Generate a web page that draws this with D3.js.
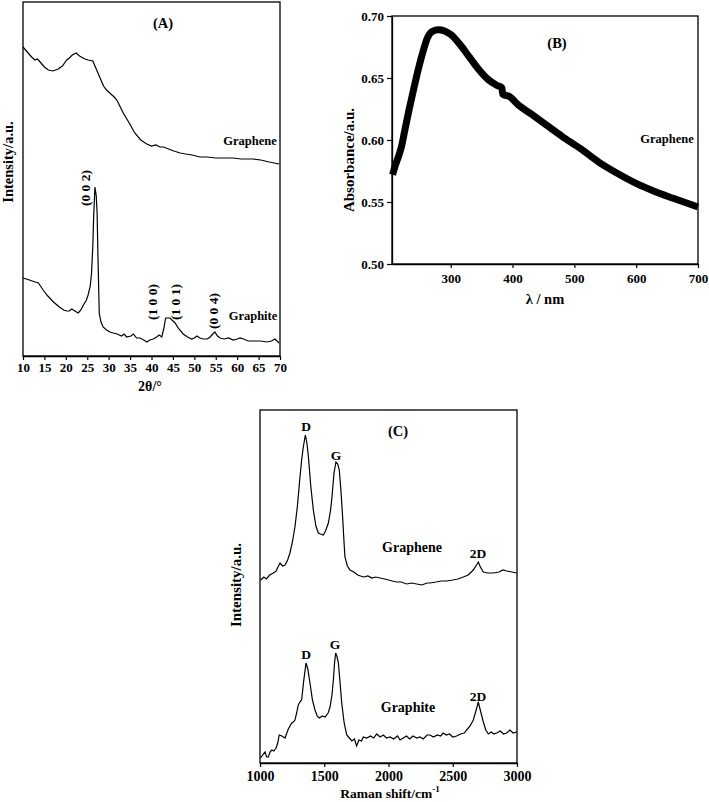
<!DOCTYPE html>
<html><head><meta charset="utf-8">
<script src="https://cdn.jsdelivr.net/npm/d3@7/dist/d3.min.js"></script>
<style>
body{margin:0;background:#fff;}
text{font-family:"Liberation Serif","Times New Roman",serif;font-weight:bold;fill:#000;}
</style></head><body>
<svg id="c" width="709" height="802"></svg>
<script>
// ---------- Panel A: XRD (2θ, intensity a.u.) ----------
const xrdTicks = [10,15,20,25,30,35,40,45,50,55,60,65,70];
const xrdGraphene = [[10,309],[11,304],[12,299],[12.8,296],[13.4,297],[14,294],[15,289],[15.9,286],[17,285],[18.2,287],[19.2,290],[20.2,296],[20.8,298],[21.5,301],[22.4,303],[23.2,300],[24.0,298],[24.5,297],[25.2,296],[26.3,295],[27.2,286],[28,278],[28.8,270],[29.5,266],[30.5,262],[31.3,259],[31.9,256],[32.6,250],[33.4,243],[34.8,233],[36.1,223],[37.5,216],[38.9,212],[40,210],[41,211],[42,209],[42.8,209],[44,207],[45.2,205],[46.7,203],[48,202],[49.5,201],[51.3,199],[53,199],[55,198],[57,198],[59,198],[61,197],[63.7,197],[65.5,196],[67.5,194],[69.8,192]];
const xrdGraphite = [[10,78],[11.5,76],[12.8,74],[13.6,73],[14.7,66],[15.8,60],[17.1,54],[18.5,49],[19.5,46],[20.2,45],[20.8,45],[21.4,47],[22.1,45],[22.9,43],[23.5,46],[24.1,51],[24.7,55],[25.2,61],[25.7,70],[26.0,83],[26.3,110],[26.5,140],[26.8,169],[27.1,160],[27.3,143],[27.5,100],[27.8,43],[28.2,34],[28.7,29],[29.5,26],[30.3,24],[31.1,23],[32,22],[33,20],[33.6,22],[34.2,19],[35.2,20],[35.8,22],[36.5,18],[37.3,18],[38.2,16],[38.9,14],[39.6,16],[40.4,17],[41.2,19],[41.8,21],[42.4,19],[42.9,28],[43.3,38],[44.3,38],[45.5,33],[46.4,27],[47.4,22],[48.4,19],[49.4,17],[50.0,18],[50.6,20],[51.3,18],[52.1,17],[53.0,17],[53.7,19],[54.3,22],[54.8,24],[55.4,20],[56,18],[57,17],[58,18],[59.1,16],[60,17],[60.7,18],[61.5,17],[62.6,15],[64,15],[65.5,15],[66.9,14],[68,15],[68.8,17],[69.8,13]];
const xrdPeaks = [{label:"(0 0 2)",x:26.8,y:168},{label:"(1 0 0)",x:42.6,y:54},{label:"(1 0 1)",x:47.8,y:54},{label:"(0 0 4)",x:56.9,y:45}];

// ---------- Panel B: UV-vis ----------
const uvTicksX = [300,400,500,600,700];
const uvTicksY = [0.50,0.55,0.60,0.65,0.70];
const uvGraphene = [[206,0.572],[210,0.579],[215,0.586],[220,0.594],[225,0.606],[232,0.623],[240,0.641],[248,0.658],[255,0.671],[262,0.682],[270,0.6875],[280,0.689],[290,0.688],[300,0.685],[315,0.677],[330,0.667],[345,0.657],[360,0.649],[375,0.644],[383,0.642],[384,0.637],[395,0.635],[410,0.628],[430,0.621],[455,0.612],[480,0.603],[510,0.593],[540,0.582],[570,0.573],[600,0.565],[630,0.5585],[660,0.553],[700,0.546]];

// ---------- Panel C: Raman ----------
const ramanTicks = [1000,1500,2000,2500,3000];
const ramanGraphene = [[1005,183],[1030,186],[1050,184],[1075,188],[1104,190],[1125,192],[1140,196],[1156,200],[1175,197],[1195,198],[1215,203],[1233,210],[1252,221],[1272,236],[1292,258],[1311,286],[1325,304],[1337,316],[1353,328],[1365,320],[1377,306],[1395,277],[1415,253],[1435,237],[1454,230],[1470,229],[1493,228],[1510,232],[1532,240],[1548,252],[1558,263],[1568,278],[1576,290],[1591,301],[1605,299],[1617,293],[1630,272],[1643,246],[1652,225],[1661,206],[1680,197],[1700,193],[1730,191],[1760,188],[1804,186],[1840,187],[1870,185],[1900,186],[1934,185],[1970,184],[2000,183],[2030,182],[2064,181],[2100,181],[2140,179],[2180,180],[2219,179],[2260,178],[2300,180],[2323,180],[2370,181],[2410,182],[2453,182],[2500,183],[2540,184],[2582,186],[2620,188],[2660,193],[2685,198],[2699,201],[2715,196],[2738,191],[2770,190],[2816,190],[2860,191],[2890,193],[2920,192],[2960,191],[2998,190]];
const ramanGraphite = [[1005,5],[1020,8],[1039,11],[1052,6],[1065,6],[1078,11],[1091,13],[1108,12],[1125,15],[1138,20],[1150,28],[1170,27],[1195,25],[1220,34],[1247,40],[1260,41],[1272,43],[1285,50],[1298,58],[1310,61],[1324,63],[1340,82],[1358,100],[1372,94],[1389,80],[1408,63],[1428,53],[1445,47],[1462,45],[1485,47],[1506,46],[1530,50],[1545,56],[1560,68],[1571,83],[1580,100],[1589,110],[1600,106],[1610,100],[1622,82],[1636,60],[1655,40],[1675,28],[1695,25],[1715,22],[1735,24],[1752,17],[1770,23],[1790,22],[1804,26],[1830,25],[1860,27],[1885,25],[1908,29],[1935,26],[1960,28],[1985,25],[2012,26],[2040,24],[2070,27],[2090,23],[2115,25],[2140,27],[2165,24],[2190,27],[2220,25],[2245,26],[2270,24],[2300,28],[2323,28],[2350,26],[2380,28],[2405,27],[2426,30],[2450,28],[2475,29],[2500,26],[2530,27],[2560,29],[2590,30],[2608,33],[2635,37],[2660,43],[2680,52],[2699,61],[2718,51],[2738,41],[2757,33],[2777,29],[2800,31],[2820,29],[2842,30],[2870,32],[2895,29],[2920,30],[2945,33],[2970,30],[2998,31]];

const svg = d3.select("#c");
const FS = 13;

function frame(x0,x1,y0,y1){
  svg.append("rect").attr("x",x0).attr("y",y0).attr("width",x1-x0).attr("height",y1-y0)
    .attr("fill","none").attr("stroke","#000").attr("stroke-width",1.3);
}
function styleAxis(g){
  g.select(".domain").attr("stroke","#000").attr("stroke-width",1.3);
  g.selectAll(".tick line").attr("stroke","#000").attr("stroke-width",1.2);
  g.selectAll(".tick text").attr("font-size",FS).attr("font-family","Liberation Serif, serif").attr("font-weight","bold").attr("fill","#000");
}
function label(x,y,t,size,rot,anchor){
  const e = svg.append("text").attr("x",x).attr("y",y).attr("font-size",size||FS)
    .attr("text-anchor",anchor||"middle").attr("dominant-baseline","middle").text(t);
  if(rot) e.attr("transform",`rotate(${rot},${x},${y})`);
  return e;
}

// ===== Panel A =====
{
  const x = d3.scaleLinear().domain([10,70]).range([23,280]);
  const y = d3.scaleLinear().domain([0,354]).range([356,2]);
  const line = d3.line().x(d=>x(d[0])).y(d=>y(d[1]));
  [xrdGraphene,xrdGraphite].forEach(s=>svg.append("path").attr("d",line(s)).attr("fill","none").attr("stroke","#000").attr("stroke-width",1.2));
  frame(23,280,2,356);
  const gx = svg.append("g").attr("transform","translate(0,356)").call(d3.axisBottom(x).tickValues(xrdTicks).tickSize(4).tickPadding(3).tickSizeOuter(0));
  styleAxis(gx);
  label(163,25,"(A)",14.5);
  label(250,142,"Graphene",12.5);
  label(253,317,"Graphite",12.5);
  xrdPeaks.forEach(p=>label(x(p.x)-8.5,y(p.y),p.label,13.5,-90));
  label(150,388,"2θ/°",14);
  label(10,162,"Intensity/a.u.",14.5,-90);
}

// ===== Panel B =====
{
  const x = d3.scaleLinear().domain([205,700]).range([392,698]);
  const y = d3.scaleLinear().domain([0.50,0.70]).range([264,16]);
  const line = d3.line().x(d=>x(d[0])).y(d=>y(d[1])).curve(d3.curveMonotoneX);
  svg.append("path").attr("d",line(uvGraphene)).attr("fill","none").attr("stroke","#000").attr("stroke-width",7).attr("stroke-linejoin","round");
  frame(392,698,16,264);
  const gx = svg.append("g").attr("transform","translate(0,264)").call(d3.axisBottom(x).tickValues(uvTicksX).tickSize(4).tickPadding(6).tickSizeOuter(0));
  styleAxis(gx);
  const gy = svg.append("g").attr("transform","translate(392,0)").call(d3.axisLeft(y).tickValues(uvTicksY).tickFormat(d3.format(".2f")).tickSize(5).tickPadding(3).tickSizeOuter(0));
  styleAxis(gy);
  label(557,45,"(B)",14.5);
  label(667,140,"Graphene",12.5);
  label(545,301,"λ / nm",14.5);
  label(351,160,"Absorbance/a.u.",15,-90);
}

// ===== Panel C =====
{
  const x = d3.scaleLinear().domain([1000,3000]).range([260,517]);
  const y = d3.scaleLinear().domain([0,353]).range([763,410]);
  const line = d3.line().x(d=>x(d[0])).y(d=>y(d[1]));
  [ramanGraphene,ramanGraphite].forEach(s=>svg.append("path").attr("d",line(s)).attr("fill","none").attr("stroke","#000").attr("stroke-width",1.2));
  frame(260,517,410,763);
  const gx = svg.append("g").attr("transform","translate(0,763)").call(d3.axisBottom(x).tickValues(ramanTicks).tickFormat(d3.format("d")).tickSize(4).tickPadding(4).tickSizeOuter(0));
  styleAxis(gx);
  gx.selectAll(".tick text").attr("font-size",14);
  label(398,433,"(C)",14.5);
  label(306,428,"D",13.5);
  label(336,457,"G",13.5);
  label(412,549,"Graphene",14);
  label(478,555,"2D",13.5);
  label(306,656,"D",13.5);
  label(335,646,"G",13.5);
  label(408,709,"Graphite",14);
  label(478,698,"2D",13.5);
  const t = label(390,795,"Raman shift/cm",13.5);
  t.append("tspan").attr("font-size",9).attr("dy",-5).text("-1");
  label(238,585,"Intensity/a.u.",15,-90);
}
</script>
</body></html>
